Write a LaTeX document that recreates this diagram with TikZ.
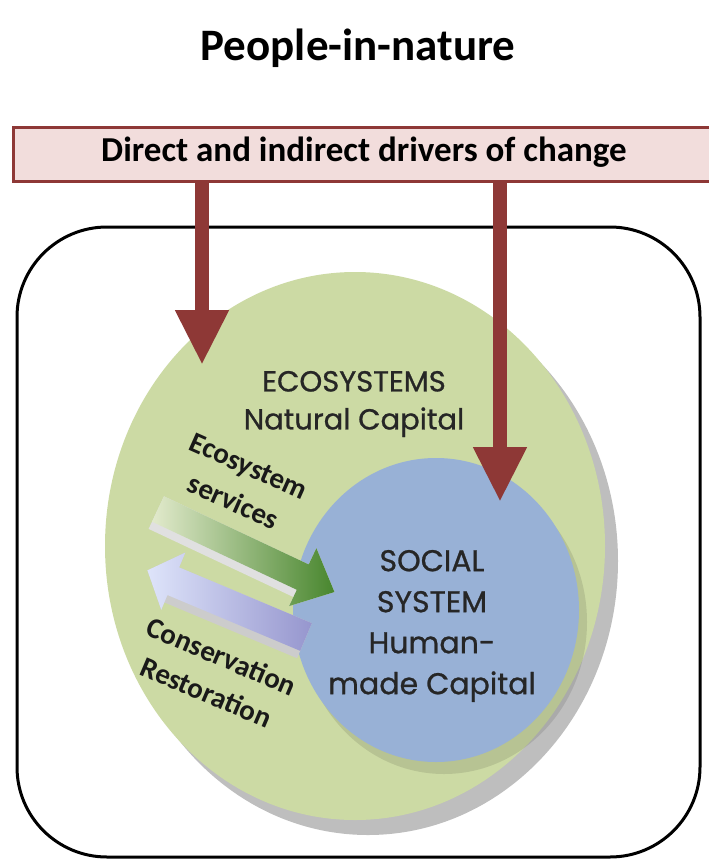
\documentclass[tikz,border=0pt]{standalone}
\usepackage{fontspec}
\setmainfont{Carlito}
\newfontfamily\gothic[FakeBold=0.8]{Poppins}
\usetikzlibrary{arrows.meta,positioning}

\definecolor{driverred}{RGB}{142,56,54}
\definecolor{driverpink}{RGB}{242,221,220}
\definecolor{ecogreen}{RGB}{204,218,164}
\definecolor{socblue}{RGB}{152,177,214}
\definecolor{shadowgray}{RGB}{190,190,190}
\definecolor{servlight}{RGB}{226,234,204}
\definecolor{servdark}{RGB}{72,134,46}
\definecolor{conslight}{RGB}{222,228,250}
\definecolor{consdark}{RGB}{150,150,206}

\tikzset{
  drivebox/.style={draw=driverred, line width=3pt, fill=driverpink},
  driver/.style={line width=14pt, draw=driverred, -{Triangle[width=50pt,length=55pt]}},
  capital/.style={font=\gothic\fontsize{29}{38}\selectfont, align=center, text=black!85},
  flowlabel/.style={font=\bfseries\fontsize{29}{39}\selectfont, align=center, text=black!90}
}

\begin{document}
\begin{tikzpicture}[x=1pt,y=-1pt]
    \useasboundingbox (0,0) rectangle (709,865);

    \node[font=\bfseries\fontsize{45}{50}\selectfont] (title) at (358,48) {People-in-nature};

    \node[drivebox, minimum width=702pt, minimum height=54pt] (drivers) at (364,154) {};
    \node[font=\bfseries\fontsize{35}{40}\selectfont] (drivertext) at (364,152) {Direct and indirect drivers of change};

    % the whole system
    \draw[line width=3pt, rounded corners=90pt] (17,227) rectangle (700,857);

    % ecosystems and the social system inside
    \fill[shadowgray] (368,561) ellipse [x radius=250, y radius=274];
    \fill[ecogreen] (355,546) ellipse [x radius=250, y radius=274];
    \fill[black, opacity=0.1] (444,622) ellipse [x radius=143, y radius=152];
    \fill[socblue] (436,610) ellipse [x radius=143, y radius=152];

    \node[capital] (eco) at (354,404) {ECOSYSTEMS\\Natural Capital};
    \node[capital, font=\gothic\fontsize{30}{41}\selectfont] (social) at (432,626) {SOCIAL\\SYSTEM\\Human-\\made Capital};

    % services arrow
    \begin{scope}[shift={(158,509)}, rotate=-25.2]
        \fill[black!12] (0,-14) -- (160,-14) -- (160,-32) -- (195,0) -- (160,32) -- (160,22) -- (0,22) -- cycle;
        \shade[left color=servlight, right color=servdark] (0,-14) -- (160,-14) -- (160,-32) -- (195,0) -- (160,32) -- (160,14) -- (0,14) -- cycle;
    \end{scope}
    % conservation arrow
    \begin{scope}[shift={(306,637)}, rotate=-22.8]
        \fill[black!20] (0,-15) -- (-144,-15) -- (-144,-31) -- (-172,0) -- (-144,31) -- (-144,23) -- (0,23) -- cycle;
        \shade[left color=conslight, right color=consdark] (0,-15) -- (-144,-15) -- (-144,-31) -- (-172,0) -- (-144,31) -- (-144,15) -- (0,15) -- cycle;
    \end{scope}

    \node[flowlabel, rotate=-24] (services) at (241,484) {Ecosystem\\services};
    \node[flowlabel, rotate=-23] (conservation) at (214,674) {Conservation\\Restoration};

    % drivers acting on both
    \coordinate (ecotip) at (202,365);
    \coordinate (soctip) at (500,502);
    \draw[driver] (drivers.south -| ecotip) -- (ecotip);
    \draw[driver] (drivers.south -| soctip) -- (soctip);
\end{tikzpicture}
\end{document}
